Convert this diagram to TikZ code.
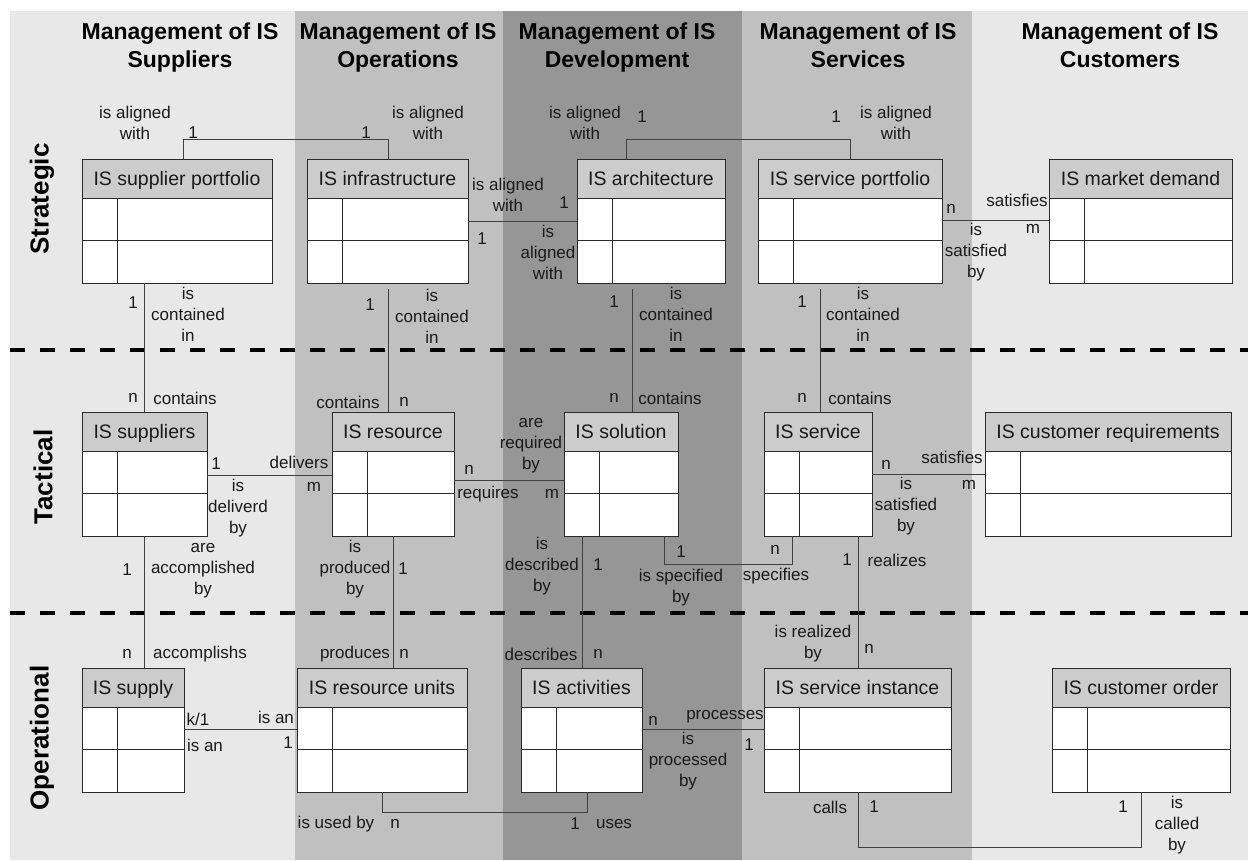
\documentclass[tikz,border=0pt]{standalone}
\usepackage{fontspec}
\setmainfont{Liberation Sans}
\definecolor{bgA}{HTML}{E8E8E8}
\definecolor{bgB}{HTML}{C0C0C0}
\definecolor{bgC}{HTML}{969696}
\definecolor{hdrfill}{HTML}{CCCCCC}
\definecolor{edgecol}{HTML}{2A2A2A}
\definecolor{conncol}{HTML}{404040}
\definecolor{txt}{HTML}{1A1A1A}
\tikzset{
  ebody/.style={draw=edgecol, fill=white, line width=1pt, anchor=north west, minimum height=124pt, inner sep=0pt, outer sep=0pt},
  ehead/.style={draw=edgecol, fill=hdrfill, line width=1pt, anchor=north west, minimum height=39pt, inner sep=0pt, outer sep=0pt, text height=14pt, text depth=0pt, text=txt, font=\fontsize{19.5}{22}\selectfont},
  rel/.style={draw=conncol, line width=1pt},
  lbl/.style={inner sep=0pt, align=center, text=txt, font=\fontsize{17}{21}\selectfont},
  colhdr/.style={inner sep=0pt, anchor=north, align=center, text=black, font=\fontsize{23}{28}\selectfont\bfseries},
  rowlbl/.style={inner sep=0pt, rotate=90, text=black, font=\fontsize{26}{30}\selectfont\bfseries},
  sep/.style={line width=4.5pt, dash pattern=on 15pt off 15pt, black},
}
\newcommand\entity[5]{%
  \node[ebody, minimum width={(#3-#2)*1pt}] (#1) at (#2,#4) {};
  \node[ehead, minimum width={(#3-#2)*1pt}] (#1-h) at (#1.north west) {#5};
  \draw[draw=edgecol, line width=1pt] ([yshift=-81pt]#1.north west) -- ([yshift=-81pt]#1.north east)
     ([xshift=35pt,yshift=-39pt]#1.north west) -- ([xshift=35pt]#1.south west);
}
\begin{document}
\begin{tikzpicture}[x=1pt,y=-1pt]
\useasboundingbox (0,0) rectangle (1248,860);
% background columns
\fill[bgA] (10,11) rectangle (295,860);
\fill[bgB] (295,11) rectangle (503,860);
\fill[bgC] (503,11) rectangle (742,860);
\fill[bgB] (742,11) rectangle (972,860);
\fill[bgA] (972,11) rectangle (1248,860);
% level separators
\draw[sep] (10,350) -- (1248,350);
\draw[sep] (10,613) -- (1248,613);
% column headers
\node[colhdr] (h1) at (180,23) {Management of IS\\Suppliers};
\node[colhdr] (h2) at (398,23) {Management of IS\\Operations};
\node[colhdr] (h3) at (617,23) {Management of IS\\Development};
\node[colhdr] (h4) at (858,23) {Management of IS\\Services};
\node[colhdr] (h5) at (1120,23) {Management of IS\\Customers};
% row labels
\node[rowlbl] (rS) at (42,199) {Strategic};
\node[rowlbl] (rT) at (43,477) {Tactical};
\node[rowlbl] (rO) at (42,738) {Operational};
% entities
\entity{spf}{82}{272}{159}{IS supplier portfolio}
\entity{inf}{307}{468}{159}{IS infrastructure}
\entity{arch}{577}{725}{159}{IS architecture}
\entity{spo}{758}{942}{159}{IS service portfolio}
\entity{md}{1049}{1232}{159}{IS market demand}
\entity{sup}{82}{207}{412}{IS suppliers}
\entity{res}{332}{454}{412}{IS resource}
\entity{sol}{564}{678}{412}{IS solution}
\entity{ser}{764}{872}{412}{IS service}
\entity{creq}{985}{1231}{412}{IS customer requirements}
\entity{spl}{82}{184}{668}{IS supply}
\entity{ru}{297}{467}{668}{IS resource units}
\entity{act}{521}{642}{668}{IS activities}
\entity{si}{764}{951}{668}{IS service instance}
\entity{co}{1052}{1230}{668}{IS customer order}
% connectors
\draw[rel] ([xshift=101pt]spf.north west) -- ++(0,-20) -| ([xshift=81pt]inf.north west);
\draw[rel] ([yshift=-62pt]inf.north east) -- ([yshift=-62pt]arch.north west);
\draw[rel] ([xshift=49pt]arch.north west) -- ++(0,-20) -| ([xshift=92pt]spo.north west);
\draw[rel] ([yshift=-61pt]spo.north east) -- ([yshift=-61pt]md.north west);
\draw[rel] ([xshift=62pt]spf.south west) -- ([xshift=62pt]sup.north west);
\draw[rel, shorten <=6pt] ([xshift=81pt]inf.south west) -- ([xshift=56pt]res.north west);
\draw[rel, shorten <=6pt] ([xshift=55pt]arch.south west) -- ([xshift=68pt]sol.north west);
\draw[rel, shorten <=6pt] ([xshift=62pt]spo.south west) -- ([xshift=56pt]ser.north west);
\draw[rel] ([yshift=-63pt]sup.north east) -- ([yshift=-63pt]res.north west);
\draw[rel] ([yshift=-68pt]res.north east) -- ([yshift=-68pt]sol.north west);
\draw[rel] ([yshift=-62pt]ser.north east) -- ([yshift=-62pt]creq.north west);
\draw[rel] ([xshift=100pt]sol.south west) -- ++(0,28) -| ([xshift=28pt]ser.south west);
\draw[rel] ([xshift=62pt]sup.south west) -- ([xshift=62pt]spl.north west);
\draw[rel] ([xshift=61pt]res.south west) -- ([xshift=96pt]ru.north west);
\draw[rel] ([xshift=18pt]sol.south west) -- ([xshift=61pt]act.north west);
\draw[rel] ([xshift=94pt]ser.south west) -- ([xshift=94pt]si.north west);
\draw[rel] ([yshift=-61pt]spl.north east) -- ([yshift=-61pt]ru.north west);
\draw[rel] ([yshift=-61pt]act.north east) -- ([yshift=-61pt]si.north west);
\draw[rel] ([xshift=85pt]ru.south west) -- ++(0,20) -| ([xshift=66pt]act.south west);
\draw[rel] ([xshift=94pt]si.south west) -- ++(0,55) -| ([xshift=89pt]co.south west);
% labels: strategic
\node[lbl] (a1) at (135,122.5) {is aligned\\with};
\node[lbl] (a2) at (193,133) {1};
\node[lbl] (a3) at (366,133) {1};
\node[lbl] (a4) at (428,122.5) {is aligned\\with};
\node[lbl] (a5) at (508,194.5) {is aligned\\with};
\node[lbl] (a6) at (564,203) {1};
\node[lbl] (a7) at (482,239) {1};
\node[lbl] (a8) at (548,252) {is\\aligned\\with};
\node[lbl] (a9) at (585,122.5) {is aligned\\with};
\node[lbl] (a10) at (642,117) {1};
\node[lbl] (a11) at (836,117) {1};
\node[lbl] (a12) at (896,122.5) {is aligned\\with};
\node[lbl] (a13) at (951,209) {n};
\node[lbl] (a14) at (1017,200) {satisfies};
\node[lbl] (a15) at (1033,229) {m};
\node[lbl] (a16) at (976,252) {is\\satisfied\\by};
% strategic -> tactical
\node[lbl] (b1) at (133,303) {1};
\node[lbl] (b2) at (188,314) {is\\contained\\in};
\node[lbl] (b3) at (133,398) {n};
\node[lbl] (b4) at (185,398) {contains};
\node[lbl] (b5) at (370,305) {1};
\node[lbl] (b6) at (432,316) {is\\contained\\in};
\node[lbl] (b7) at (348,402) {contains};
\node[lbl] (b8) at (404,402) {n};
\node[lbl] (b9) at (614,302) {1};
\node[lbl] (b10) at (676,314) {is\\contained\\in};
\node[lbl] (b11) at (614,398) {n};
\node[lbl] (b12) at (670,398) {contains};
\node[lbl] (b13) at (802,302) {1};
\node[lbl] (b14) at (863,314) {is\\contained\\in};
\node[lbl] (b15) at (802,398) {n};
\node[lbl] (b16) at (860,398) {contains};
% tactical
\node[lbl] (c1) at (216,464) {1};
\node[lbl] (c2) at (299,462) {delivers};
\node[lbl] (c3) at (314,487) {m};
\node[lbl] (c4) at (238,508) {is\\deliverd\\by};
\node[lbl] (c5) at (469,470) {n};
\node[lbl] (c6) at (488,494) {requires};
\node[lbl] (c7) at (552,494) {m};
\node[lbl] (c8) at (531,446) {are\\required\\by};
\node[lbl] (c9) at (886,465) {n};
\node[lbl] (c10) at (952,457) {satisfies};
\node[lbl] (c11) at (969,485) {m};
\node[lbl] (c12) at (906,506) {is\\satisfied\\by};
\node[lbl] (c13) at (681,552) {1};
\node[lbl] (c14) at (775,550) {n};
\node[lbl] (c15) at (681,588) {is specified\\by};
\node[lbl] (c16) at (776,576) {specifies};
% tactical -> operational
\node[lbl] (d1) at (127,570) {1};
\node[lbl] (d2) at (203,571) {are\\accomplished\\by};
\node[lbl] (d3) at (127,654) {n};
\node[lbl] (d4) at (200,654) {accomplishs};
\node[lbl] (d5) at (355,569) {is\\produced\\by};
\node[lbl] (d6) at (403,569) {1};
\node[lbl] (d7) at (355,654) {produces};
\node[lbl] (d8) at (404,654) {n};
\node[lbl] (d9) at (542,566) {is\\described\\by};
\node[lbl] (d10) at (598,565) {1};
\node[lbl] (d11) at (541,654) {describes};
\node[lbl] (d12) at (598,654) {n};
\node[lbl] (d13) at (847,560) {1};
\node[lbl] (d14) at (897,560) {realizes};
\node[lbl] (d15) at (813,643.5) {is realized\\by};
\node[lbl] (d16) at (869,649) {n};
% operational
\node[lbl] (e1) at (198,719) {k/1};
\node[lbl] (e2) at (276,717) {is an};
\node[lbl] (e3) at (205,745) {is an};
\node[lbl] (e4) at (288,743) {1};
\node[lbl] (e5) at (653,721) {n};
\node[lbl] (e6) at (725,717) {processes};
\node[lbl] (e7) at (749,745) {1};
\node[lbl] (e8) at (688,761) {is\\processed\\by};
\node[lbl] (e9) at (336,824) {is used by};
\node[lbl] (e10) at (395,824) {n};
\node[lbl] (e11) at (575,824) {1};
\node[lbl] (e12) at (614,824) {uses};
\node[lbl] (e13) at (830,807) {calls};
\node[lbl] (e14) at (874,807) {1};
\node[lbl] (e15) at (1123,807) {1};
\node[lbl] (e16) at (1177,825) {is\\called\\by};
\end{tikzpicture}
\end{document}
